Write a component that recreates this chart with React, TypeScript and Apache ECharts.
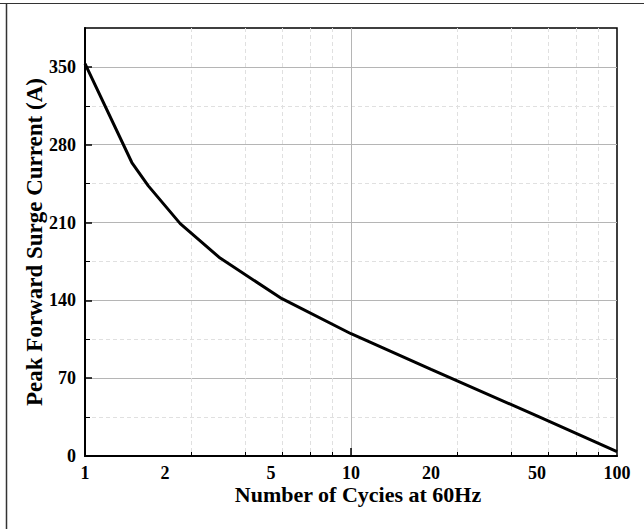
import React, { useEffect, useRef } from "react";
import * as echarts from "echarts";

const cycles = [1, 1.5, 1.73, 2.28, 3.22, 5.5, 10, 20, 50, 100];
const current = [353, 264, 243, 209, 178, 141.5, 110, 78, 36, 4];

const xLabelValues = [1, 2, 5, 10, 20, 50, 100];
const xMajorTicks = [10];
const xMinorTicks = [2.5, 4, 5.5, 7, 8.5, 25, 40, 55, 70, 85];
const yMajorTicks = [0, 70, 140, 210, 280, 350];
const yMinorTicks = [35, 105, 175, 245, 315];

const xTitle = "Number of Cycies at 60Hz";
const yTitle = "Peak Forward Surge Current (A)";

const FONT = "'Liberation Serif', 'Times New Roman', serif";

export default function App() {
  const ref = useRef<HTMLDivElement>(null);
  useEffect(() => {
    if (!ref.current) return;
    const chart = echarts.init(ref.current, undefined, { renderer: "svg" });
    const labelStyle = { fontFamily: FONT, fontWeight: "bold", fontSize: 18, color: "#000" };
    chart.setOption({
      animation: false,
      backgroundColor: "#fff",
      grid: {
        left: 85, right: 27, top: 28, bottom: 73,
        show: true, borderColor: "#000", borderWidth: 1.5, backgroundColor: "transparent",
      },
      graphic: [
        { type: "line", shape: { x1: 0, y1: 3.5, x2: 644, y2: 3.5 }, style: { stroke: "#333", lineWidth: 1 }, z: 100 },
        { type: "line", shape: { x1: 6.5, y1: 3.5, x2: 6.5, y2: 529 }, style: { stroke: "#333", lineWidth: 1.5 }, z: 100 },
      ],
      xAxis: [
        {
          type: "log", logBase: 10, min: 1, max: 100, position: "bottom",
          name: xTitle, nameLocation: "middle", nameGap: 27, nameMoveOverlap: false,
          nameTextStyle: { fontFamily: FONT, fontWeight: "bold", fontSize: 22, color: "#000", padding: [0, 0, 0, 14] },
          axisLine: { show: true, lineStyle: { color: "#000", width: 2 } },
          axisTick: { show: true, inside: true, length: 8, customValues: xMajorTicks, lineStyle: { color: "#000", width: 1.5 } },
          axisLabel: { ...labelStyle, margin: 8, customValues: xLabelValues, formatter: (v: number) => String(Math.round(v)) },
          splitLine: { show: true, lineStyle: { color: "#b5b5b5", width: 1 } },
          minorTick: { show: false }, minorSplitLine: { show: false },
        },
        {
          type: "log", logBase: 10, min: 1, max: 100, position: "bottom", offset: 0,
          axisLine: { show: false },
          axisTick: { show: true, inside: true, length: 4, customValues: xMinorTicks, lineStyle: { color: "#000", width: 1 } },
          axisLabel: { show: false },
          splitLine: { show: true, lineStyle: { color: "#e0e0e0", width: 1, type: [4, 3] } },
        },
      ],
      yAxis: [
        {
          type: "value", min: 0, max: 385, position: "left",
          name: yTitle, nameLocation: "middle", nameGap: 39, nameMoveOverlap: false,
          nameTextStyle: { fontFamily: FONT, fontWeight: "bold", fontSize: 23, color: "#000" },
          axisLine: { show: true, lineStyle: { color: "#000", width: 2 } },
          axisTick: { show: true, inside: true, length: 7, customValues: yMajorTicks, lineStyle: { color: "#000", width: 1.5 } },
          axisLabel: { ...labelStyle, margin: 9, customValues: yMajorTicks },
          splitLine: { show: true, lineStyle: { color: "#b5b5b5", width: 1 } },
        },
        {
          type: "value", min: 0, max: 385, position: "left", offset: 0,
          axisLine: { show: false },
          axisTick: { show: true, inside: true, length: 5, customValues: yMinorTicks, lineStyle: { color: "#000", width: 1 } },
          axisLabel: { show: false },
          splitLine: { show: true, lineStyle: { color: "#e0e0e0", width: 1, type: [4, 3] } },
        },
      ],
      series: [
        {
          type: "line",
          xAxisIndex: 0, yAxisIndex: 0,
          data: cycles.map((c, i) => [c, current[i]]),
          showSymbol: false, symbol: "none",
          lineStyle: { color: "#000", width: 3 },
          z: 10,
        },
      ],
    });
    return () => chart.dispose();
  }, []);
  return <div ref={ref} style={{ position: "fixed", left: 0, top: 0, width: 644, height: 529 }} />;
}
